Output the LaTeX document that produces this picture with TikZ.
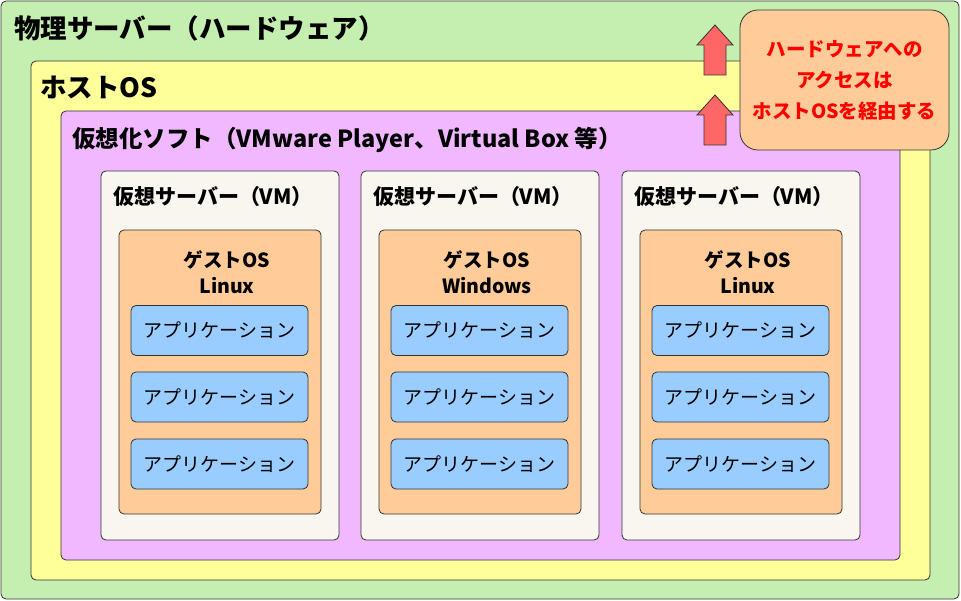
\documentclass[tikz,border=0pt]{standalone}
\usepackage{fontspec}
\setmainfont{Noto Sans CJK JP}
\definecolor{gr}{HTML}{C5EFB0}
\definecolor{ye}{HTML}{FFFF99}
\definecolor{pu}{HTML}{F0B8FF}
\definecolor{vm}{HTML}{F8F6EE}
\definecolor{or}{HTML}{FFCC99}
\definecolor{bl}{HTML}{99CCFF}
\definecolor{ar}{HTML}{FF6666}
\definecolor{tx}{HTML}{FF0000}
\tikzset{
 box/.style={draw=black!80, line width=0.8pt, rounded corners=5pt},
 app/.style={box, fill=bl, minimum width=177pt, minimum height=50pt, font=\fontsize{19}{22}\selectfont},
 ttl/.style={anchor=west, font=\bfseries\fontsize{22}{26}\selectfont, inner sep=0pt},
 upar/.style={draw=black!80, fill=ar, line width=0.8pt, line join=miter}
}
\begin{document}
\begin{tikzpicture}[x=1pt,y=-1pt]
\useasboundingbox (0,0) rectangle (961,601);
\draw[box, fill=gr] (1,1) rectangle (959,599);
\node[ttl, font=\bfseries\fontsize{26.5}{30}\selectfont] (t1) at (14,28) {物理サーバー（ハードウェア）};
\draw[box, fill=ye] (31,61) rectangle (930,580);
\node[ttl, font=\bfseries\fontsize{26.5}{30}\selectfont] (t2) at (40,87) {ホストOS};
\draw[box, fill=pu] (61,111) rectangle (900,560);
\node[ttl, font=\bfseries\fontsize{23.5}{28}\selectfont] (t3) at (72,140) {仮想化ソフト（VMware Player、Virtual Box 等）};
\foreach \x/\os [count=\i] in {101/Linux,361/Windows,622/Linux}{
  \draw[box, fill=vm] (\x,171) rectangle ++(238,369);
  \node[ttl, font=\bfseries\fontsize{21}{25}\selectfont] (vm\i) at (\x+12,197) {仮想サーバー（VM）};
  \draw[box, fill=or] (\x+18,230) rectangle ++(202,284);
  \node[font=\bfseries\fontsize{19.5}{26}\selectfont, align=center, inner sep=0pt] (os\i) at (\x+126,272) {ゲストOS\\\os};
  \node[app] (a\i) at (\x+118.5,330.5) {アプリケーション};
  \node[app] (b\i) at (\x+118.5,397) {アプリケーション};
  \node[app] (c\i) at (\x+118.5,464) {アプリケーション};
}
\foreach \y in {95,25}{
  \draw[upar] (704,\y+50) -- (704,\y+20) -- (697,\y+20) -- (715,\y) -- (733,\y+20) -- (726,\y+20) -- (726,\y+50) -- cycle;
}
\node[box, rounded corners=18pt, fill=or, minimum width=209pt, minimum height=140pt, align=center, text=tx, font=\bfseries\fontsize{19.5}{31}\selectfont] (c) at (844.5,80) {ハードウェアへの\\アクセスは\\ホストOSを経由する};
\end{tikzpicture}
\end{document}
